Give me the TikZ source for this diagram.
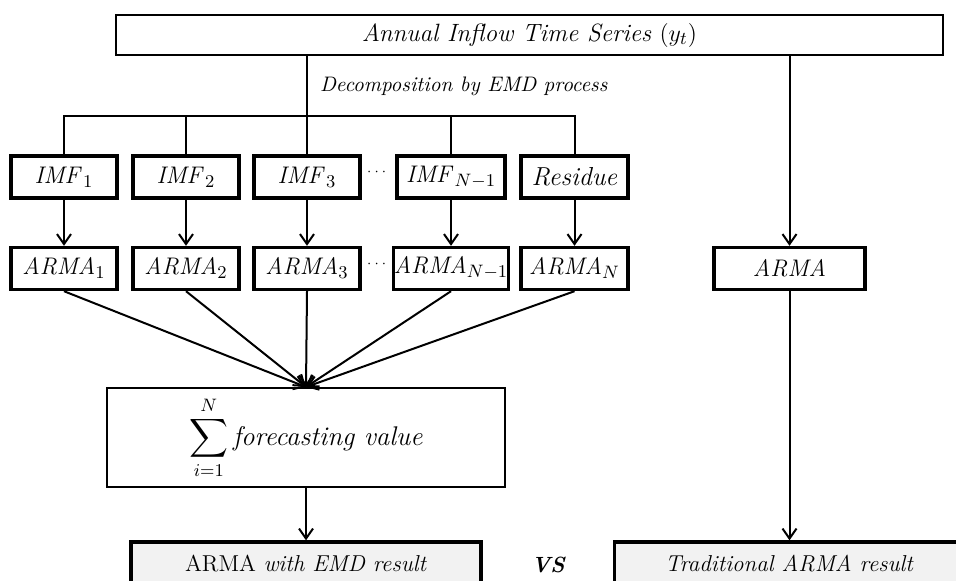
\documentclass[tikz,border=0pt]{standalone}
\usepackage{amsmath,amssymb}
\usetikzlibrary{arrows.meta}
\tikzset{
  box/.style={draw, line width=1.7pt, minimum height=21pt, inner sep=0pt},
  thinbox/.style={draw, line width=1pt, inner sep=0pt},
  resbox/.style={draw, line width=1.7pt, fill=black!5, inner sep=0pt, font=\fontsize{11.5}{13}\selectfont},
  link/.style={line width=1pt},
  arr/.style={link, -{Straight Barb[length=5pt,width=7pt]}},
  lab/.style={font=\fontsize{13}{15}\selectfont},
}

\begin{document}
\begin{tikzpicture}[x=0.5pt,y=-0.5pt,lab]
\clip (0,0) rectangle (956,580);
\node[thinbox, minimum width=413.5pt, minimum height=20pt, font=\fontsize{12.5}{14}\selectfont] (series) at (529.5,35) {\textit{Annual Inflow Time Series} $(y_t)$};
\node[anchor=west, font=\fontsize{10.5}{12}\selectfont\itshape] (emd) at (313,86) {Decomposition by EMD process};
\coordinate (bus) at (308,116);
\foreach \n/\x/\w/\imf/\arma in {1/64/53/{$\mathit{IMF}_1$}/{$\mathit{ARMA}_1$},
                                 2/186/53/{$\mathit{IMF}_2$}/{$\mathit{ARMA}_2$},
                                 3/307/53/{$\mathit{IMF}_3$}/{$\mathit{ARMA}_3$},
                                 4/451/54/{$\mathit{IMF}_{N-1}$}/{$\mathit{ARMA}_{N-1}$},
                                 5/574.5/53.5/{\textit{Residue}}/{$\mathit{ARMA}_N$}} {
  \node[box, minimum width=\w pt] (imf\n) at (\x,177) {\imf};
  \node[box, minimum width=\w pt] (arma\n) at (\x,268.5) {\arma};
  \draw[arr] (imf\n) -- (arma\n);
}
\node[font=\scriptsize] (dotsa) at (378,172) {$\cdots$};
\node[font=\scriptsize] (dotsb) at (378,264) {$\cdots$};
\node[box, minimum width=75.5pt] (armat) at (789.5,268.5) {$\mathit{ARMA}$};
% decomposition
\draw[link] (series.south -| imf3.north) -- (imf3.north);
\draw[link] (imf1.north) |- (bus) -| (imf5.north);
\draw[link] (imf2.north) -- (imf2.north |- bus);
\draw[link] (imf4.north) -- (imf4.north |- bus);
\draw[arr] (series.south -| armat.north) -- (armat.north);
% summation
\node[thinbox, minimum width=199pt, minimum height=49.5pt, font=\fontsize{13.5}{15}\selectfont] (sum) at (306,437.5) {$\displaystyle\sum_{i=1}^{N}\,$\textit{forecasting value}};
\foreach \n in {1,...,5} {
  \draw[arr] (arma\n.south) -- (sum.north);
}
% results
\node[resbox, minimum width=175pt, minimum height=22pt] (emdres) at (306,564) {ARMA \textit{with EMD result}};
\node[resbox, minimum width=175pt, minimum height=22pt] (armares) at (789.5,564) {\textit{Traditional ARMA result}};
\node[font=\fontsize{11}{13}\selectfont\bfseries\itshape] (vs) at (548,565) {VS};
\draw[arr] (sum.south) -- (emdres.north);
\draw[arr] (armat.south) -- (armares.north);
\end{tikzpicture}
\end{document}
